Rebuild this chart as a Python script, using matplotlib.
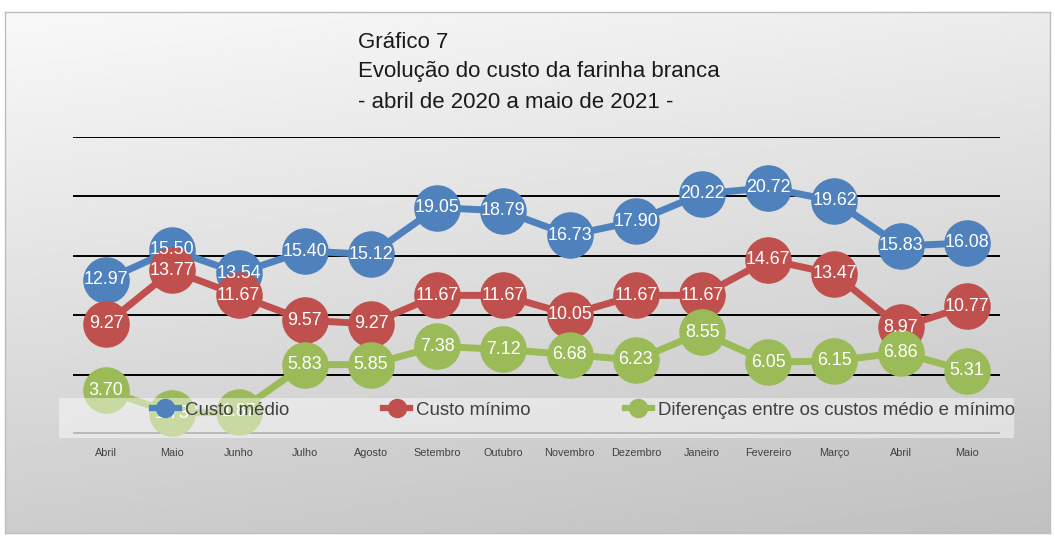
"""Evolução do custo da farinha branca, abril de 2020 a maio de 2021."""

from matplotlib import pyplot as plt
from matplotlib.lines import Line2D
from matplotlib.patches import Rectangle
import numpy as np

plt.rcParams["font.family"] = ["Liberation Sans", "DejaVu Sans"]

meses = ["Abril", "Maio", "Junho", "Julho", "Agosto", "Setembro", "Outubro",
         "Novembro", "Dezembro", "Janeiro", "Fevereiro", "Março", "Abril", "Maio"]
custo_medio = [12.97, 15.50, 13.54, 15.40, 15.12, 19.05, 18.79, 16.73, 17.90,
               20.22, 20.72, 19.62, 15.83, 16.08]
custo_minimo = [9.27, 13.77, 11.67, 9.57, 9.27, 11.67, 11.67, 10.05, 11.67,
                11.67, 14.67, 13.47, 8.97, 10.77]
diferenca = [3.70, 1.73, 1.87, 5.83, 5.85, 7.38, 7.12, 6.68, 6.23, 8.55, 6.05,
             6.15, 6.86, 5.31]

series = [
    ("Custo médio", custo_medio, "#4f81bd"),
    ("Custo mínimo", custo_minimo, "#c0504d"),
    ("Diferenças entre os custos médio e mínimo", diferenca, "#9bbb59"),
]

W, H = 1055, 537
fig = plt.figure(figsize=(W / 100, H / 100), dpi=100)
fig.patch.set_facecolor("white")


def fx(px):
    return px / W


def fy(py):
    return 1 - py / H


# gradient background of the chart box
bg = fig.add_axes([fx(5), fy(533), fx(1045), 521 / H])
yy, xx = np.mgrid[0:1:200j, 0:1:400j]
grad = 0.975 - 0.17 * yy - 0.05 * xx
bg.imshow(grad, cmap="gray", vmin=0, vmax=1, aspect="auto",
          extent=[0, 1, 0, 1], origin="upper", interpolation="bilinear")
bg.set_xticks([])
bg.set_yticks([])
for s in bg.spines.values():
    s.set_color("#bdbdbd")
    s.set_linewidth(1)

ax = fig.add_axes([fx(73), fy(434), fx(927), 297 / H])
ax.patch.set_alpha(0)
x = np.arange(len(meses))
ax.set_xlim(-0.5, len(meses) - 0.5)
ax.set_ylim(0, 25)

for v in [5, 10, 15, 20, 25]:
    ax.axhline(v, color="black", lw=1.4, zorder=1)
ax.axhline(0, color="#7f7f7f", lw=3.5, zorder=1)

for i, (name, vals, color) in enumerate(series):
    ax.plot(x, vals, color=color, lw=5, marker="o", ms=32.5,
            zorder=2 + i, clip_on=False)
for i, (name, vals, color) in enumerate(series):
    for xi, v in zip(x, vals):
        ax.text(xi, v, f"{v:.2f}", color="white", fontsize=12.9,
                ha="center", va="center", zorder=6)

ax.set_xticks(x)
ax.set_xticklabels(meses, fontsize=7.8, color="#404040")
ax.tick_params(axis="x", length=0, pad=10)
ax.set_yticks([])
for s in ax.spines.values():
    s.set_visible(False)

# title
titulo = ["Gráfico 7", "Evolução do custo da farinha branca",
          "- abril de 2020 a maio de 2021 -"]
for k, linha in enumerate(titulo):
    fig.text(fx(358), fy(42 + 30 * k), linha, fontsize=16,
             color="#1a1a1a", ha="left", va="center")

# legend band over the bottom of the plot
fig.patches.append(Rectangle((fx(59), fy(438)), fx(955), 40 / H,
                             transform=fig.transFigure, facecolor="white",
                             alpha=0.45, edgecolor="none", zorder=5))
handles = [Line2D([], [], color=c, lw=4.5, marker="o", ms=13) for _, _, c in series]
leg = fig.legend(handles, [n for n, _, _ in series], loc="center left",
                 bbox_to_anchor=(fx(152), fy(410)), ncol=3, frameon=False,
                 fontsize=13.4, handlelength=1.45, handletextpad=0.33,
                 columnspacing=5.05, borderpad=0, borderaxespad=0)
leg.set_zorder(6)
for t in leg.get_texts():
    t.set_color("#404040")

fig.savefig("out.png", dpi=100)
